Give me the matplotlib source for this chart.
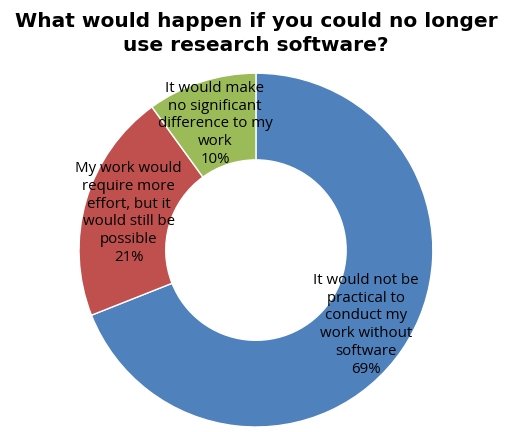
import matplotlib.pyplot as plt

# data
categories = ["It would not be\npractical to\nconduct my\nwork without\nsoftware",
              "My work would\nrequire more\neffort, but it\nwould still be\npossible",
              "It would make\nno significant\ndifference to my\nwork"]
percents = [69, 21, 10]
colors = ["#4F81BD", "#C0504D", "#9BBB59"]

labels = [c + "\n%d%%" % p for c, p in zip(categories, percents)]

fig = plt.figure(figsize=(5.07, 4.32), dpi=100)
fig.text(0.505, 0.972, "What would happen if you could no longer\nuse research software?",
         ha="center", va="top", fontsize=14.5, fontweight="bold",
         family="DejaVu Sans", linespacing=1.35)

ax = fig.add_axes([0.1558, 0.0116, 0.698, 0.819])
wedges, texts = ax.pie(percents, labels=labels, colors=colors, startangle=90,
                       counterclock=False, labeldistance=0.75, radius=1.0,
                       wedgeprops=dict(width=0.49, edgecolor="white", linewidth=1),
                       textprops=dict(ha="center", va="center", fontsize=10.8,
                                      family="Open Sans", linespacing=1.25))
ax.set_xlim(-1, 1)
ax.set_ylim(-1, 1)
ax.set_aspect("equal")
ax.axis("off")

plt.savefig("out.png", dpi=100)
